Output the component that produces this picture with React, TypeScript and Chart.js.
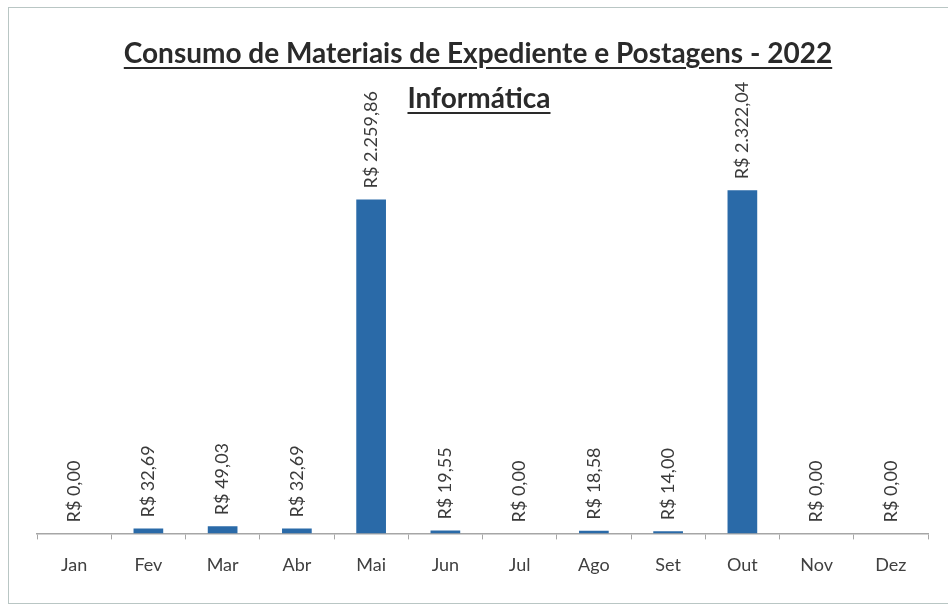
import React, { useEffect, useRef } from "react";
import { Chart, registerables } from "chart.js";

Chart.register(...registerables);

const months = ["Jan", "Fev", "Mar", "Abr", "Mai", "Jun", "Jul", "Ago", "Set", "Out", "Nov", "Dez"];
const values = [0, 32.69, 49.03, 32.69, 2259.86, 19.55, 0, 18.58, 14.0, 2322.04, 0, 0];
const title = "Consumo de Materiais de Expediente e Postagens - 2022";
const subtitle = "Informática";

const FONT = "Lato, 'Open Sans', sans-serif";

function formatBRL(v: number): string {
  const fixed = v.toFixed(2);
  const [intPart, dec] = fixed.split(".");
  const withDots = intPart.replace(/\B(?=(\d{3})+(?!\d))/g, ".");
  return "R$ " + withDots + "," + dec;
}

const valueLabels = {
  id: "valueLabels",
  afterDatasetsDraw(chart: any) {
    const ctx = chart.ctx;
    const meta = chart.getDatasetMeta(0);
    ctx.save();
    ctx.fillStyle = "#3a3a3a";
    ctx.font = "18px " + FONT;
    ctx.textAlign = "left";
    ctx.textBaseline = "middle";
    meta.data.forEach((bar: any, i: number) => {
      const v = chart.data.datasets[0].data[i];
      ctx.save();
      ctx.translate(bar.x, bar.y - 11);
      ctx.rotate(-Math.PI / 2);
      ctx.fillText(formatBRL(v), 0, 0);
      ctx.restore();
    });
    ctx.restore();
  },
};

export default function App() {
  const ref = useRef<HTMLCanvasElement | null>(null);
  useEffect(() => {
    if (!ref.current) return;
    const chart = new Chart(ref.current, {
      type: "bar",
      data: {
        labels: months,
        datasets: [
          {
            data: values,
            backgroundColor: "#2a6aa8",
            barPercentage: 0.8,
            categoryPercentage: 0.5,
          },
        ],
      },
      options: {
        animation: false,
        responsive: false,
        maintainAspectRatio: false,
        layout: { padding: { left: 37, right: 20, top: 90, bottom: 16 } },
        plugins: { legend: { display: false }, tooltip: { enabled: false }, title: { display: false } },
        scales: {
          x: {
            offset: true,
            grid: {
              offset: true,
              drawOnChartArea: false,
              drawTicks: true,
              tickLength: 6,
              color: "#a6a6a6",
            },
            border: { display: true, color: "#a6a6a6", width: 1.5 },
            ticks: { color: "#404040", font: { family: FONT, size: 18 }, padding: 15 },
          },
          y: { display: false, min: 0, max: 3000 },
        },
      },
      plugins: [valueLabels],
    });
    return () => chart.destroy();
  }, []);

  return (
    <div style={{ position: "absolute", left: 0, top: 0, width: 948, height: 607, background: "#fff", overflow: "hidden" }}>
      <div
        style={{
          position: "absolute",
          left: 8,
          top: 7,
          width: 960,
          height: 597,
          border: "1.5px solid #b9c6c4",
          boxSizing: "border-box",
        }}
      />
      <canvas ref={ref} width={948} height={607} style={{ position: "absolute", left: 0, top: 0 }} />
      <div
        style={{
          position: "absolute",
          left: 0,
          width: 956,
          top: 36,
          textAlign: "center",
          fontFamily: FONT,
          fontWeight: 700,
          fontSize: 28,
          color: "#2a2a2a",
          textDecoration: "underline",
          textUnderlineOffset: 4,
          lineHeight: "32px",
        }}
      >
        {title}
      </div>
      <div
        style={{
          position: "absolute",
          left: 0,
          width: 958,
          top: 81,
          textAlign: "center",
          fontFamily: FONT,
          fontWeight: 700,
          fontSize: 28,
          color: "#2a2a2a",
          textDecoration: "underline",
          textUnderlineOffset: 4,
          lineHeight: "32px",
        }}
      >
        {subtitle}
      </div>
    </div>
  );
}
